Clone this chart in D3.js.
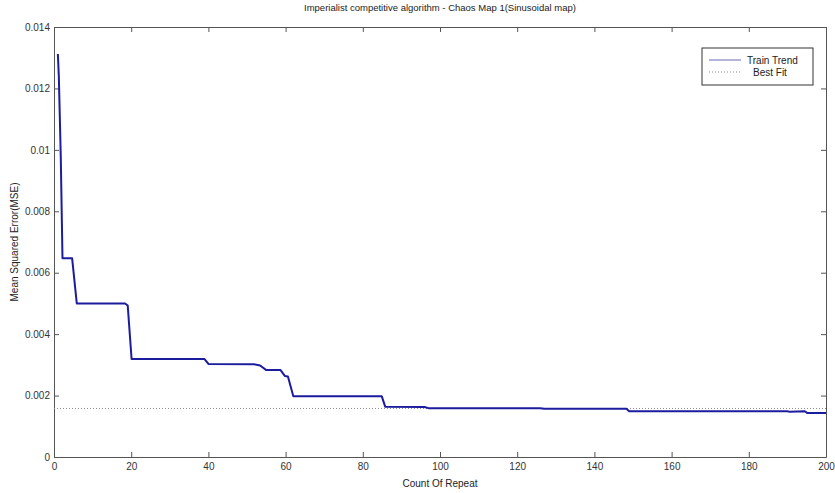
<!DOCTYPE html>
<html>
<head>
<meta charset="utf-8">
<script src="https://cdn.jsdelivr.net/npm/d3@7"></script>
<style>
  body { margin: 0; background: #fff; }
  svg { font-family: "Liberation Sans", Arial, sans-serif; }
</style>
</head>
<body>
<svg id="chart" width="835" height="493"></svg>
<script>
// chart values
const iterations = [1, 1.25, 1.5, 1.75, 2.2, 4.7, 5.9, 18.4, 19.1, 20.1, 39, 40, 51.8, 53.4, 55, 58.7, 59.8, 60.6, 62,
  84.9, 85.8, 96, 97, 126, 127, 148.3, 149, 190, 190.6, 194.5, 195.2, 200]
const mse = [0.01312, 0.0124, 0.0111, 0.0098, 0.00647, 0.00647, 0.0050, 0.0050, 0.00493, 0.00319, 0.00319, 0.00303, 0.00302, 0.00298,
  0.00283, 0.00283, 0.00264, 0.00262, 0.00198, 0.00198, 0.00164, 0.00163, 0.00159, 0.00159, 0.00157, 0.00157, 0.00149,
  0.00149, 0.00147, 0.00149, 0.00143, 0.00143]
const bestFit = 0.00158
const xTicks = [0, 20, 40, 60, 80, 100, 120, 140, 160, 180, 200]
const yTicks = [0, 0.002, 0.004, 0.006, 0.008, 0.01, 0.012, 0.014]
const seriesNames = ["Train Trend", "Best Fit"]

const svg = d3.select("#chart")
const m = { left: 54, top: 27, right: 826, bottom: 457 }

let x = d3.scaleLinear().domain([0, 200]).range([m.left, m.right])
let y = d3.scaleLinear().domain([0, 0.014]).range([m.bottom, m.top])

const axisColor = "#555"
const yFmt = d => (d === 0 ? "0" : d3.format(".3~f")(d))

//axes, MATLAB style box with inner ticks
function styleAxis(g, hideText) {
  g.select(".domain").attr("stroke", axisColor)
  g.selectAll(".tick line").attr("stroke", axisColor)
  g.selectAll(".tick text")
    .attr("fill", "#333")
    .style("font-size", "10px")
  if (hideText) g.selectAll(".tick text").remove()
}

svg.append("g")
  .attr("transform", "translate(0," + m.bottom + ")")
  .call(d3.axisBottom(x).tickValues(xTicks).tickSizeInner(-5).tickSizeOuter(0).tickPadding(6))
  .call(g => styleAxis(g, false))
svg.append("g")
  .attr("transform", "translate(0," + m.top + ")")
  .call(d3.axisTop(x).tickValues(xTicks).tickSizeInner(-5).tickSizeOuter(0))
  .call(g => styleAxis(g, true))
svg.append("g")
  .attr("transform", "translate(" + m.left + ",0)")
  .call(d3.axisLeft(y).tickValues(yTicks).tickFormat(yFmt).tickSizeInner(-5).tickSizeOuter(0).tickPadding(4))
  .call(g => styleAxis(g, false))
svg.append("g")
  .attr("transform", "translate(" + m.right + ",0)")
  .call(d3.axisRight(y).tickValues(yTicks).tickSizeInner(-5).tickSizeOuter(0))
  .call(g => styleAxis(g, true))

//best fit line
svg.append("line")
  .attr("x1", x(0))
  .attr("x2", x(200))
  .attr("y1", y(bestFit))
  .attr("y2", y(bestFit))
  .style("stroke", "#8a8a8a")
  .style("stroke-width", "1px")
  .style("stroke-dasharray", "1,2")

//train trend
let toLine = d3.line()
  .x(d => x(d[0]))
  .y(d => y(d[1]))

svg.append("path")
  .datum(d3.zip(iterations, mse))
  .attr("d", toLine)
  .style("fill", "none")
  .style("stroke", "#1c1c9e")
  .style("stroke-width", "2px")
  .style("stroke-linejoin", "round")

//texts
svg.append("text")
  .attr("x", 440)
  .attr("y", 11)
  .attr("text-anchor", "middle")
  .style("font-size", "9.5px")
  .attr("fill", "#222")
  .text("Imperialist competitive algorithm - Chaos Map 1(Sinusoidal map)")

svg.append("text")
  .attr("x", 440)
  .attr("y", 487)
  .attr("text-anchor", "middle")
  .style("font-size", "10px")
  .attr("fill", "#222")
  .text("Count Of Repeat")

svg.append("text")
  .attr("transform", "translate(18," + (m.top + m.bottom) / 2 + ") rotate(-90)")
  .attr("text-anchor", "middle")
  .style("font-size", "10px")
  .attr("fill", "#222")
  .text("Mean Squared Error(MSE)")

//legend
let legend = svg.append("g").attr("transform", "translate(702,48)")
legend.append("rect")
  .attr("width", 111)
  .attr("height", 37)
  .style("fill", "#fff")
  .style("stroke", "#333")
  .style("stroke-width", "1px")

legend.selectAll(".legendRow")
  .data(seriesNames)
  .enter()
  .append("g")
  .attr("class", "legendRow")
  .attr("transform", (d, i) => "translate(0," + (12 + i * 12) + ")")
  .each(function (d, i) {
    let row = d3.select(this)
    row.append("line")
      .attr("x1", 7)
      .attr("x2", 39)
      .style("stroke", i === 0 ? "#6a6aae" : "#8a8a8a")
      .style("stroke-width", "1px")
      .style("stroke-dasharray", i === 0 ? null : "1,2")
    row.append("text")
      .attr("x", i === 0 ? 45 : 51)
      .attr("y", 3.5)
      .style("font-size", "10px")
      .attr("fill", "#222")
      .text(d)
  })
</script>
</body>
</html>
